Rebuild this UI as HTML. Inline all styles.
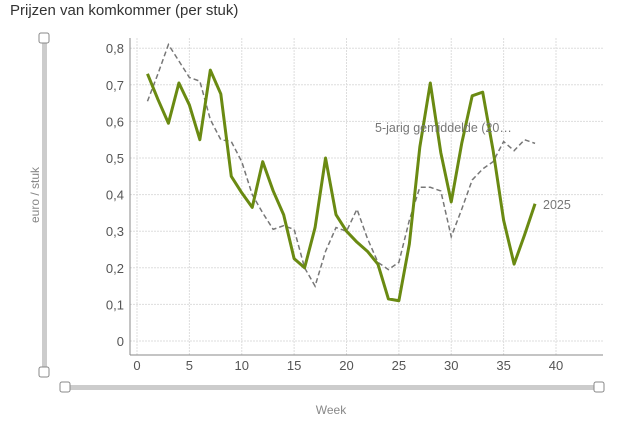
<!DOCTYPE html>
<html><head><meta charset="utf-8"><style>
body{margin:0;background:#fff;width:626px;height:417px;overflow:hidden;font-family:"Liberation Sans",sans-serif}
</style></head><body>
<svg id="s" width="626" height="417" xmlns="http://www.w3.org/2000/svg" font-family="Liberation Sans, sans-serif">
<text x="10" y="15" font-size="15" fill="#333">Prijzen van komkommer (per stuk)</text>
<g id="grid" stroke="#ddd" stroke-dasharray="2,1" stroke-width="1"></g>
<line x1="130" y1="38" x2="130" y2="355" stroke="#888"/>
<line x1="130" y1="355" x2="603" y2="355" stroke="#888"/>
<g id="lab" font-size="13" fill="#555"></g>
<polyline id="gray" fill="none" stroke="#777" stroke-width="1.5" stroke-dasharray="5,3"/>
<polyline id="green" fill="none" stroke="#6a8a12" stroke-width="3" stroke-linejoin="round"/>
<text x="375" y="132" font-size="12.5" fill="#777">5-jarig gemiddelde (20…</text>
<text x="543" y="209" font-size="12.5" fill="#777">2025</text>
<text transform="translate(39,195) rotate(-90)" text-anchor="middle" font-size="12" fill="#888">euro / stuk</text>
<text x="331" y="414" text-anchor="middle" font-size="12" fill="#888">Week</text>
<rect x="42" y="40" width="5" height="332" fill="#ccc"/>
<rect x="39" y="33" width="10" height="10" rx="2" fill="#fff" stroke="#888"/>
<rect x="39" y="367" width="10" height="10" rx="2" fill="#fff" stroke="#888"/>
<rect x="66" y="385" width="534" height="5" fill="#ccc"/>
<rect x="60" y="382" width="10" height="10" rx="2" fill="#fff" stroke="#888"/>
<rect x="594" y="382" width="10" height="10" rx="2" fill="#fff" stroke="#888"/>
</svg>
<script>
var X=w=>137+w*10.475,Y=v=>341-v*366;
var g=document.getElementById('grid'),l=document.getElementById('lab'),ns='http://www.w3.org/2000/svg';
function el(p,t,a,txt){var e=document.createElementNS(ns,t);for(var k in a)e.setAttribute(k,a[k]);if(txt!=null)e.textContent=txt;p.appendChild(e);}
for(var i=0;i<=8;i++){var y=Y(i/10);el(g,'line',{x1:130,x2:603,y1:y,y2:y});el(l,'text',{x:124,y:y+5,'text-anchor':'end'},i==0?'0':'0,'+i);}
for(var w=0;w<=40;w+=5){var x=X(w);el(g,'line',{x1:x,x2:x,y1:38,y2:355});el(l,'text',{x:x,y:370,'text-anchor':'middle'},w);}
var gr=[.73,.66,.595,.705,.645,.55,.74,.675,.45,.405,.365,.49,.41,.345,.225,.2,.31,.5,.345,.3,.27,.245,.21,.115,.11,.265,.53,.705,.515,.38,.54,.67,.68,.52,.33,.21,.29,.375];
var gy=[.655,.73,.81,.765,.72,.71,.605,.55,.545,.49,.4,.35,.305,.315,.305,.2,.15,.245,.31,.3,.36,.28,.215,.195,.215,.33,.42,.42,.41,.285,.36,.44,.47,.49,.545,.52,.55,.54];
document.getElementById('green').setAttribute('points',gr.map((v,i)=>X(i+1)+','+Y(v)).join(' '));
document.getElementById('gray').setAttribute('points',gy.map((v,i)=>X(i+1)+','+Y(v)).join(' '));
</script>
</body></html>
